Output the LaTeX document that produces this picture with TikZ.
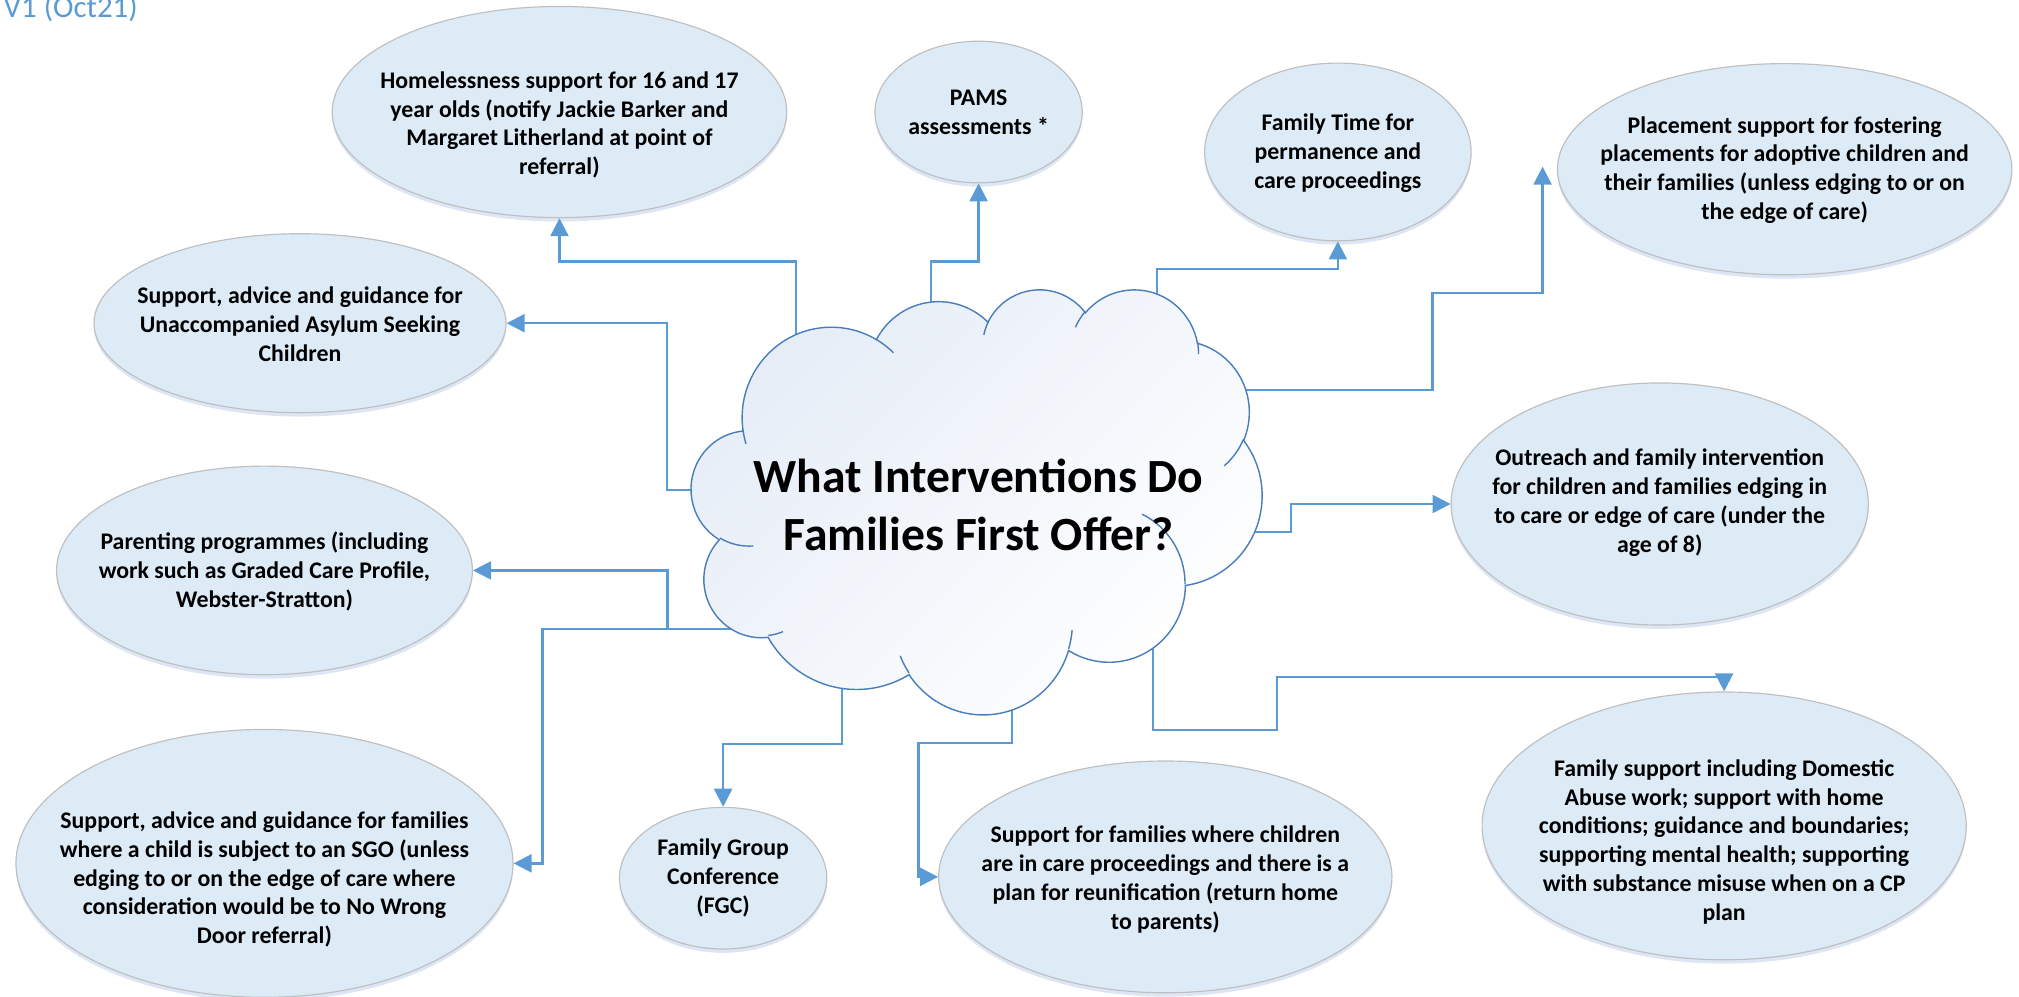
\documentclass[tikz,border=0pt]{standalone}
\usepackage{fontspec}
\setmainfont{Carlito}
\usetikzlibrary{arrows.meta,shapes.geometric,shadows,calc}
\definecolor{linkblue}{HTML}{5B9BD5}
\definecolor{cloudline}{HTML}{4A7EBB}
\definecolor{bubblefill}{HTML}{DDEBF7}
\definecolor{bubbleline}{HTML}{BFBFBF}
\definecolor{shadowc}{HTML}{B4C7E7}
\definecolor{cloudtop}{HTML}{E6EDF7}
\tikzset{
  bubble/.style={ellipse, draw=bubbleline, fill=bubblefill, line width=0.9pt, inner sep=0pt,
    drop shadow={shadow xshift=0pt, shadow yshift=-3pt, fill=shadowc, opacity=0.45}},
  btext/.style={align=center, inner sep=0pt, font=\fontsize{18.5}{22.4}\selectfont\bfseries},
  link/.style={draw=linkblue, line width=1.8pt, -{Triangle[length=14pt,width=14pt]}},
  linkplain/.style={draw=linkblue, line width=1.8pt},
  cloudedge/.style={draw=cloudline, line width=1.1pt},
}
\begin{document}
\begin{tikzpicture}[x=1pt,y=-1pt]
\useasboundingbox (0,0) rectangle (1568,774);

% version label
\node[anchor=base west, inner sep=0pt, text=linkblue, font=\fontsize{24}{29}\selectfont] (ver) at (2.6,13.5) {V1 (Oct21)};

% bubbles
\node[bubble, minimum width=353pt, minimum height=164pt] (hom) at (434.5,87) {};
\node[bubble, minimum width=161pt, minimum height=110pt] (pams) at (760,87) {};
\node[bubble, minimum width=207pt, minimum height=138pt] (ft) at (1039,118) {};
\node[bubble, minimum width=353pt, minimum height=164pt] (pl) at (1386,131.4) {};
\node[bubble, minimum width=320pt, minimum height=139pt] (uasc) at (233,251) {};
\node[bubble, minimum width=324pt, minimum height=188pt] (out) at (1289,391.4) {};
\node[bubble, minimum width=323pt, minimum height=162pt] (par) at (205.4,443) {};
\node[bubble, minimum width=386pt, minimum height=208pt] (sgo) at (205.4,670.5) {};
\node[bubble, minimum width=161pt, minimum height=110pt] (fgc) at (561.6,682) {};
\node[bubble, minimum width=352pt, minimum height=180pt] (reu) at (905,681) {};
\node[bubble, minimum width=376pt, minimum height=208pt] (fs) at (1339,641.4) {};

% bubble texts
\node[btext] (homt) at (434.5,97) {Homelessness support for 16 and 17\\year olds (notify Jackie Barker and\\Margaret Litherland at point of\\referral)};
\node[btext] (pamst) at (760,87) {PAMS\\assessments *};
\node[btext] (ftt) at (1039,119) {Family Time for\\permanence and\\care proceedings};
\node[btext] (plt) at (1386,132) {Placement support for fostering\\placements for adoptive children and\\their families (unless edging to or on\\the edge of care)};
\node[btext] (uasct) at (233,251.6) {Support, advice and guidance for\\Unaccompanied Asylum Seeking\\Children};
\node[btext] (outt) at (1289,390.3) {Outreach and family intervention\\for children and families edging in\\to care or edge of care (under the\\age of 8)};
\node[btext] (part) at (205.4,444) {Parenting programmes (including\\work such as Graded Care Profile,\\Webster-Stratton)};
\node[btext] (sgot) at (205.4,683) {Support, advice and guidance for families\\where a child is subject to an SGO (unless\\edging to or on the edge of care where\\consideration would be to No Wrong\\Door referral)};
\node[btext] (fgct) at (561.6,682) {Family Group\\Conference\\(FGC)};
\node[btext] (reut) at (905,683) {Support for families where children\\are in care proceedings and there is a\\plan for reunification (return home\\to parents)};
\node[btext] (fst) at (1339,653.8) {Family support including Domestic\\Abuse work; support with home\\conditions; guidance and boundaries;\\supporting mental health; supporting\\with substance misuse when on a CP\\plan};

% connector start points (inside the cloud)
\coordinate (cA) at (618,290);
\coordinate (cB) at (723,270);
\coordinate (cC) at (898.3,260);
\coordinate (cD) at (950,303);
\coordinate (cE) at (960,413.4);
\coordinate (cF) at (560,380.6);
\coordinate (cG) at (580,488.6);
\coordinate (cI) at (654,510);
\coordinate (cJ) at (786,530);
\coordinate (cK) at (895.2,480);
\coordinate (plTip) at (1198,129.4);

% connectors
\draw[link] (cA) -- (618,203) -| (hom.south);
\draw[link] (cB) -- (723,203) -| (pams.south);
\draw[link] (cC) -- (898.3,209) -| (ft.south);
\draw[link] (cD) -| (1112.5,227.8) -| (plTip);
\draw[link] (cE) -| (1002.6,391.4) -- (out.west);
\draw[link] (cF) -| (518,251) -- (uasc.east);
\draw[link] (cG) -| (518.3,443) -- (par.east);
\draw[link] (cG) -| (421.3,670.5) -- (sgo.east);
\draw[link] (cI) |- (561.6,578) -- (fgc.north);
\draw[link] (cJ) |- (713.4,576.8) |- (reu.west);
\draw[link] (cK) |- (991.5,567) |- (1339,526) -- (fs.north);

% cloud (Office cloud geometry, 1/100 of 43200 units)
\begin{scope}[shift={(537pt,-224pt)}, x=1.0255pt, y=-0.7639pt]
\path[cloudedge, top color=cloudtop, bottom color=white, shading angle=45] (39.00,143.70)
 arc[start angle=-187.75, end angle=-59.63, x radius=67.53, y radius=91.90]
 arc[start angle=-152.02, end angle=-45.45, x radius=53.33, y radius=72.67]
 arc[start angle=-153.49, end angle=-37.33, x radius=43.65, y radius=59.45]
 arc[start angle=-139.72, end angle=-10.22, x radius=48.57, y radius=65.95]
 arc[start angle=-74.77, end angle=23.22, x radius=53.33, y radius=72.73]
 arc[start angle=-37.53, end angle=81.86, x radius=67.75, y radius=92.20]
 arc[start angle=0.46, end angle=121.98, x radius=57.85, y radius=78.67]
 arc[start angle=16.84, end angle=146.23, x radius=67.52, y radius=92.15]
 arc[start angle=58.98, end angle=150.19, x radius=77.20, y radius=105.43]
 arc[start angle=83.31, end angle=223.12, x radius=43.60, y radius=59.18]
 arc[start angle=120.35, end angle=264.11, x radius=43.45, y radius=59.45]
 -- cycle;
\draw[cloudedge]
 (46.93,261.77) arc[start angle=85.54, end angle=120.35, x radius=43.45, y radius=59.45]
 (69.28,348.99) arc[start angle=68.23, end angle=83.31, x radius=43.60, y radius=59.18]
 (164.78,390.90) arc[start angle=146.23, end angle=158.47, x radius=67.52, y radius=92.15]
 (288.27,347.51) arc[start angle=4.74, end angle=16.84, x radius=67.52, y radius=92.15]
 (341.29,229.54) arc[start angle=-64.02, end angle=0.46, x radius=57.85, y radius=78.67]
 (417.98,153.54) arc[start angle=23.22, end angle=49.65, x radius=53.33, y radius=72.73]
 (383.24,54.26) arc[start angle=-10.22, end angle=0.82, x radius=48.57, y radius=65.95]
 (290.78,39.52) arc[start angle=-156.29, end angle=-139.72, x radius=48.57, y radius=65.95]
 (221.41,47.20) arc[start angle=-167.72, end angle=-153.49, x radius=43.65, y radius=59.45]
 (140.00,51.92) arc[start angle=-59.63, end angle=-45.75, x radius=67.53, y radius=91.90]
 (41.27,157.89) arc[start angle=163.19, end angle=172.25, x radius=67.53, y radius=91.90];
\end{scope}

% title
\node[align=center, inner sep=0pt, font=\fontsize{37}{45}\selectfont\bfseries] (title) at (760,392) {What Interventions Do\\Families First Offer?};
\end{tikzpicture}
\end{document}
